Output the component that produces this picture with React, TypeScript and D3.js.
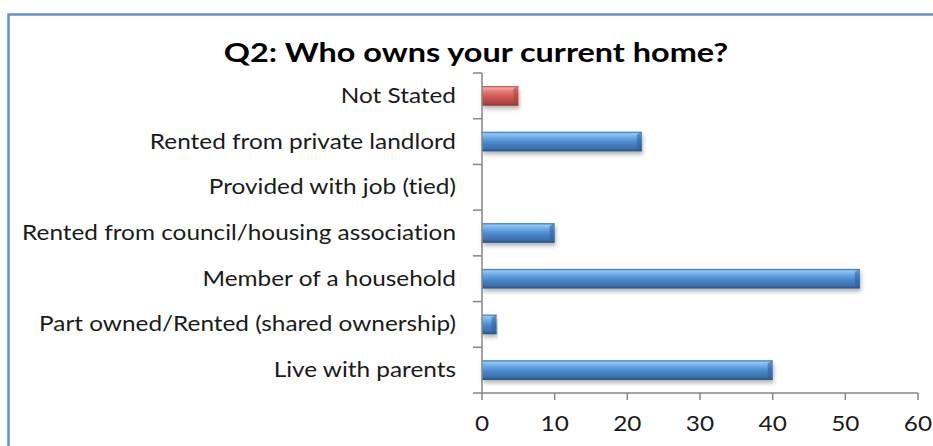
import React from "react";
import * as d3 from "d3";

const categories = [
  "Not Stated",
  "Rented from private landlord",
  "Provided with job (tied)",
  "Rented from council/housing association",
  "Member of a household",
  "Part owned/Rented (shared ownership)",
  "Live with parents",
];
const values = [5, 22, 0, 10, 52, 2, 40];
const highlight = ["Not Stated"];
const xTicks = [0, 10, 20, 30, 40, 50, 60];
const title = "Q2: Who owns your current home?";

const W = 933;
const H = 446;
const FONT = "Lato, 'Open Sans', sans-serif";
const SX = 1.16;
const TSX = 1.2;
const noLig = { fontVariantLigatures: "none" as const };

export default function App() {
  const x = d3.scaleLinear().domain([0, 60]).range([482, 918]);
  const y = d3.scaleBand().domain(categories).range([73, 393]).paddingInner(0.57).paddingOuter(0.285);
  const yb = d3.scaleBand().domain(categories).range([73, 393]);
  const bw = y.bandwidth();
  return (
    <svg width={W} height={H} style={{ position: "absolute", left: 0, top: 0, background: "#fff" }}>
      <defs>
        <linearGradient id="gBlue" x1="0" y1="0" x2="0" y2="1">
          <stop offset="0" stopColor="#2f65a6" />
          <stop offset="0.1" stopColor="#93c8f5" />
          <stop offset="0.3" stopColor="#6aa8e6" />
          <stop offset="0.55" stopColor="#4a87cb" />
          <stop offset="0.85" stopColor="#3b70ad" />
          <stop offset="1" stopColor="#25507f" />
        </linearGradient>
        <linearGradient id="gRed" x1="0" y1="0" x2="0" y2="1">
          <stop offset="0" stopColor="#b24a47" />
          <stop offset="0.1" stopColor="#f4a6a3" />
          <stop offset="0.3" stopColor="#e57571" />
          <stop offset="0.55" stopColor="#cf5753" />
          <stop offset="0.85" stopColor="#b34744" />
          <stop offset="1" stopColor="#8a3230" />
        </linearGradient>
        <filter id="shadow" x="-10%" y="-50%" width="120%" height="200%">
          <feDropShadow dx="1" dy="3" stdDeviation="2" floodColor="#000" floodOpacity="0.3" />
        </filter>
      </defs>
      <rect x={8.5} y={14.5} width={1200} height={1200} fill="none" stroke="#6690cc" strokeWidth={2.5} />
      <text
        transform={`translate(476,62) scale(${TSX},1)`}
        textAnchor="middle"
        fontFamily={FONT}
        fontWeight="bold"
        fontSize={27}
        fill="#000"
        style={noLig}
      >
        {title}
      </text>
      {categories.map((c, i) => {
        const v = values[i];
        const y0 = y(c)!;
        const red = highlight.includes(c);
        const w = x(v) - x(0);
        return (
          <g key={c}>
            {v > 0 && (
              <g filter="url(#shadow)">
                <rect x={x(0)} y={y0} width={w} height={bw} fill={red ? "url(#gRed)" : "url(#gBlue)"} />
                <polygon
                  points={`${x(v) - Math.min(5, w / 2)},${y0 + 3} ${x(v)},${y0} ${x(v)},${y0 + bw} ${x(v) - Math.min(5, w / 2)},${y0 + bw - 3}`}
                  fill={red ? "#a93f3c" : "#2c5e98"}
                  opacity={0.55}
                />
              </g>
            )}
            <text
              transform={`translate(456,${yb(c)! + yb.bandwidth() / 2 + 7}) scale(${SX},1)`}
              textAnchor="end"
              fontFamily={FONT}
              fontSize={21}
              fill="#1a1a1a"
              style={noLig}
            >
              {c}
            </text>
          </g>
        );
      })}
      <line x1={482} x2={482} y1={73} y2={393} stroke="#868686" strokeWidth={1.5} />
      {[...categories.map((c) => yb(c)!), 393].map((t, i) => (
        <line key={i} x1={473} x2={482} y1={t} y2={t} stroke="#868686" strokeWidth={1.5} />
      ))}
      <line x1={482} x2={918} y1={393} y2={393} stroke="#868686" strokeWidth={1.5} />
      {xTicks.map((t) => (
        <g key={t}>
          <line x1={x(t)} x2={x(t)} y1={393} y2={400} stroke="#868686" strokeWidth={1.5} />
          <text
            transform={`translate(${x(t)},431) scale(${SX},1)`}
            textAnchor="middle"
            fontFamily={FONT}
            fontSize={21}
            fill="#1a1a1a"
          >
            {t}
          </text>
        </g>
      ))}
    </svg>
  );
}
